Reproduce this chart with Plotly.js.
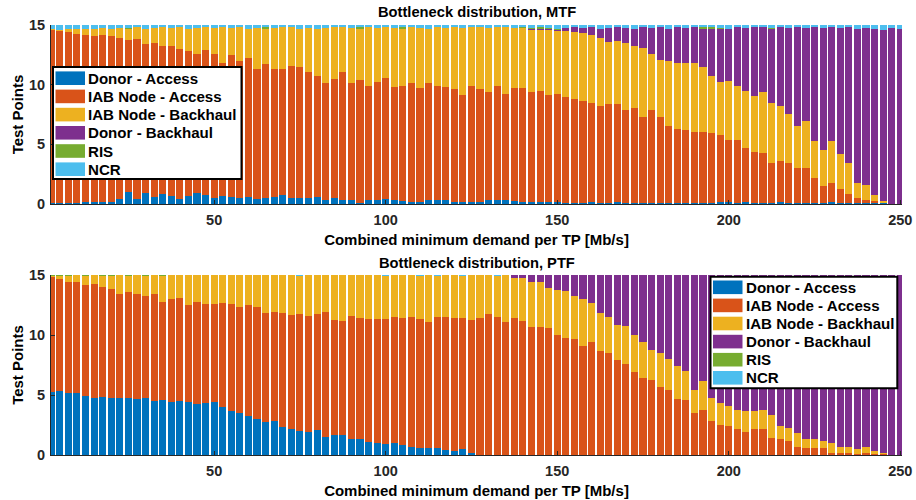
<!DOCTYPE html>
<html><head><meta charset="utf-8">
<script src="https://cdn.plot.ly/plotly-3.0.1.min.js"></script>
<style>html,body{margin:0;padding:0;background:#fff}#chart{width:916px;height:500px}</style>
</head><body><div id="chart"></div>
<script>
const demand = [2.5,5,7.5,10,12.5,15,17.5,20,22.5,25,27.5,30,32.5,35,37.5,40,42.5,45,47.5,50,52.5,55,57.5,60,62.5,65,67.5,70,72.5,75,77.5,80,82.5,85,87.5,90,92.5,95,97.5,100,102.5,105,107.5,110,112.5,115,117.5,120,122.5,125,127.5,130,132.5,135,137.5,140,142.5,145,147.5,150,152.5,155,157.5,160,162.5,165,167.5,170,172.5,175,177.5,180,182.5,185,187.5,190,192.5,195,197.5,200,202.5,205,207.5,210,212.5,215,217.5,220,222.5,225,227.5,230,232.5,235,237.5,240,242.5,245,247.5,250];

const seriesNames = ["Donor - Access","IAB Node - Access","IAB Node - Backhaul","Donor - Backhaul","RIS","NCR"];
const seriesColors = ["#0072BD","#D95319","#EDB120","#7E2F8E","#77AC30","#4DBEEE"];
const xTicks = [50,100,150,200,250];
const yTicks = [0,5,10,15];

// MTF panel
const mtfDonorAccess = [0.05,0.05,0.05,0.05,0.15,0.15,0.2,0.2,0.4,1.0, 0.4,0.9,0.6,0.8,0.7,0.4,0.7,0.9,0.75,0.5, 0.7,0.6,0.5,0.6,0.45,0.5,0.55,0.75,0.5,0.5, 0.5,0.6,0.3,0.5,0.35,0.3,0.1,0.3,0.3,0.4, 0.3,0.25,0.2,0.2,0.3,0.3,0.35,0.2,0.2,0.2, 0.2,0.3,0.3,0.3,0.25,0.2,0.2,0.15,0.15,0.15, 0.1,0.1,0.1,0.15,0.1,0.1,0.15,0.05,0.1,0.05, 0.1,0.05,0.1,0.05,0.05,0.05,0.05,0.1,0.15,0.15, 0.05,0.15,0.05,0.05,0.05,0.15,0.05,0.05,0.05,0.05, 0.05,0.15,0.05,0.05,0.05,0.05,0.05,0.05,0,0];
const mtfIabAccess = [14.5,14.45,14.4,14.2,14.0,13.95,13.95,13.9,13.55,12.75, 13.4,12.5,12.9,12.4,12.5,12.55,12.1,11.7,12.15,12.1, 11.15,11.9,11.5,11.6,10.85,11.2,10.8,10.6,11.1,10.95, 10.6,10.15,9.85,9.95,10.75,9.8,10.25,9.55,9.95,10.2, 9.5,9.6,9.9,9.5,9.8,9.6,9.45,9.45,8.95,9.65, 9.45,9.05,9.6,8.95,9.45,9.5,9.15,9.35,8.95,9.05, 8.85,8.7,8.5,8.35,8.1,8.25,8.25,7.85,7.95,7.25, 7.75,7.2,6.45,6.25,6.15,5.95,5.95,5.82,5.63,5.21, 5.31,4.51,4.34,4.25,3.39,3.48,3.41,2.94,2.99,2.1, 1.49,1.64,1.18,0.79,0.42,0.29,0.2,0.06,0,0];
const mtfIabBackhaul = [0.1,0.1,0.25,0.45,0.5,0.6,0.6,0.6,0.8,0.9, 1.0,1.3,1.25,1.6,1.55,1.85,1.9,2.15,1.9,2.15, 2.95,2.25,2.8,2.5,3.45,3.0,3.4,3.45,3.2,3.25, 3.65,3.9,4.6,4.35,3.7,4.65,4.35,4.95,4.5,4.2, 4.95,4.85,4.7,5.05,4.6,4.9,4.95,5.15,5.6,4.95, 5.15,5.4,4.9,5.55,5.05,5.05,5.2,5.05,5.45,5.3, 5.55,5.6,5.75,5.7,5.7,5.25,5.25,5.6,5.2,5.8, 4.7,4.8,5.4,5.5,5.64,5.84,5.5,4.83,4.42,4.98, 4.56,4.81,4.66,5.11,5.0,4.61,4.08,3.57,3.94,3.16, 2.99,3.52,2.96,2.57,1.26,1.25,0.5,0.14,0,0];
const mtfDonorBackhaul = [0,0,0,0,0,0,0,0,0,0, 0,0,0,0,0,0,0,0,0,0, 0,0,0,0,0,0,0,0,0,0, 0,0,0,0,0,0,0,0,0,0, 0,0,0,0,0,0,0,0,0,0, 0,0,0,0,0,0,0.15,0.15,0.1,0.1, 0.25,0.4,0.4,0.6,0.8,1.15,1.15,1.25,1.45,1.7, 2.2,2.75,2.75,3.0,2.91,2.96,3.2,3.95,4.5,4.36, 4.88,5.28,5.75,5.39,6.26,6.56,7.21,8.24,7.77,9.49, 10.22,9.49,10.56,11.39,12.97,13.16,13.9,14.35,14.75,14.7];
const mtfRis = [0,0,0,0,0,0,0,0,0,0.1, 0,0,0,0,0,0,0,0,0,0, 0,0,0,0,0,0.1,0,0,0,0, 0,0.05,0,0,0,0,0.1,0,0,0, 0,0.1,0,0,0,0,0,0,0,0, 0,0,0,0,0,0.05,0.05,0.1,0.1,0.1, 0,0,0,0,0,0,0,0,0,0, 0,0,0,0,0,0,0.1,0.1,0.05,0, 0,0,0,0,0.05,0,0,0,0,0, 0,0,0,0,0,0,0,0,0,0];
const mtfNcr = [0.35,0.4,0.3,0.3,0.35,0.3,0.25,0.3,0.25,0.25, 0.2,0.3,0.25,0.2,0.25,0.2,0.3,0.25,0.2,0.25, 0.2,0.25,0.2,0.3,0.25,0.2,0.25,0.2,0.2,0.3, 0.25,0.3,0.25,0.2,0.2,0.25,0.2,0.2,0.25,0.2, 0.25,0.2,0.2,0.25,0.3,0.2,0.25,0.2,0.25,0.2, 0.2,0.25,0.2,0.2,0.25,0.2,0.25,0.2,0.25,0.3, 0.25,0.2,0.25,0.2,0.3,0.25,0.2,0.25,0.3,0.2, 0.25,0.2,0.3,0.2,0.25,0.2,0.2,0.2,0.25,0.3, 0.2,0.25,0.2,0.2,0.25,0.2,0.25,0.2,0.25,0.2, 0.25,0.2,0.25,0.2,0.3,0.25,0.35,0.4,0.25,0.3];

// PTF panel
const ptfDonorAccess = [5.28,5.36,5.19,5.19,4.94,4.72,4.86,4.72,4.72,4.72, 4.64,4.72,4.53,4.58,4.44,4.53,4.39,4.25,4.31,4.39, 3.97,3.69,3.53,3.25,3.0,2.78,2.86,2.36,2.17,2.03, 1.94,2.11,1.53,1.64,1.64,1.36,1.36,1.08,1.0,0.92, 1.0,0.83,0.64,0.61,0.61,0.56,0.44,0.36,0.53,0.19, 0,0,0,0,0,0,0,0,0,0, 0,0,0,0,0,0,0,0,0,0, 0,0,0,0,0,0,0,0,0,0, 0,0,0,0,0,0,0,0,0,0, 0,0,0,0,0,0,0,0,0,0];
const ptfIabAccess = [9.58,9.31,9.25,9.25,9.23,9.53,9.17,9.11,8.7,8.89, 8.75,8.53,8.89,8.2,8.53,8.58,8.11,8.53,8.27,8.19, 8.67,8.89,8.83,9.25,9.36,9.02,9.03,9.5,9.5,9.72, 9.64,9.61,10.39,9.61,9.53,10.22,10.03,10.23,10.36,10.44, 10.5,10.61,10.86,10.75,10.5,10.97,11.06,11.08,10.86,11.06, 11.39,11.72,11.53,11.11,11.39,11.19,10.69,10.69,10.56,10.0, 9.72,9.69,9.11,9.44,8.69,8.53,7.94,7.58,6.94,6.44, 6.28,5.67,5.42,4.69,4.58,3.53,3.75,2.86,2.5,2.42, 2.17,1.94,2.14,2.14,1.39,1.31,1.19,0.69,0.56,0.56, 0.56,0.19,0.19,0.14,0.08,0.19,0.08,0.08,0,0];
const ptfIabBackhaul = [0.09,0.28,0.51,0.56,0.78,0.75,0.92,1.12,1.58,1.34, 1.61,1.7,1.58,2.17,2.03,1.89,2.5,2.22,2.42,2.42, 2.36,2.42,2.64,2.5,2.64,3.2,3.11,3.14,3.33,3.2, 3.42,3.28,3.08,3.75,3.83,3.42,3.61,3.69,3.64,3.59, 3.5,3.56,3.5,3.59,3.89,3.42,3.5,3.56,3.51,3.75, 3.61,3.28,3.42,3.89,3.39,3.59,3.75,3.75,3.33,3.75, 3.97,3.56,3.89,3.25,3.17,2.94,2.89,3.17,3.06,3.0, 2.5,2.86,2.55,2.75,2.42,1.89,2.44,1.86,1.86,1.66, 1.58,1.73,1.55,1.61,1.94,1.13,1.09,1.17,0.77,0.77, 0.63,0.78,0.5,0.55,0.39,0.45,0.28,0.06,0,0];
const ptfDonorBackhaul = [0,0,0,0,0,0,0,0,0,0, 0,0,0,0,0,0,0,0,0,0, 0,0,0,0,0,0,0,0,0,0, 0,0,0,0,0,0,0,0,0,0, 0,0,0,0,0,0,0,0,0,0, 0,0,0,0,0.22,0.22,0.56,0.56,1.11,1.25, 1.31,1.75,2.0,2.31,3.14,3.53,4.17,4.25,5.0,5.56, 6.22,6.47,7.03,7.56,8.0,9.58,8.81,10.28,10.64,10.92, 11.25,11.33,11.31,11.25,11.67,12.56,12.72,13.14,13.67,13.67, 13.81,14.03,14.31,14.31,14.53,14.36,14.64,14.86,15,15];
const ptfRis = [0.05,0.05,0.05,0,0.05,0,0.05,0.05,0,0.05, 0,0.05,0,0.05,0,0,0,0,0,0, 0,0,0,0,0,0,0,0,0,0, 0,0,0,0,0,0,0,0,0,0, 0,0,0,0,0,0,0,0,0,0, 0,0,0,0,0,0,0,0,0,0, 0,0,0,0,0,0,0,0,0,0, 0,0,0,0,0,0,0,0,0,0, 0,0,0,0,0,0,0,0,0,0, 0,0,0,0,0,0,0,0,0,0];
const ptfNcr = [0,0,0,0,0,0,0,0,0,0, 0,0,0,0,0,0,0,0,0,0, 0,0,0,0,0,0,0,0,0,0.05, 0,0,0,0,0,0,0,0,0,0.05, 0,0,0,0.05,0,0.05,0,0,0.1,0, 0,0,0.05,0,0,0,0,0,0,0, 0,0,0,0,0,0,0,0,0,0, 0,0,0,0,0,0,0,0,0,0, 0,0,0,0,0,0,0,0,0,0, 0,0,0,0,0,0,0,0,0,0];

const mtfSeries = [mtfDonorAccess, mtfIabAccess, mtfIabBackhaul, mtfDonorBackhaul, mtfRis, mtfNcr];
const ptfSeries = [ptfDonorAccess, ptfIabAccess, ptfIabBackhaul, ptfDonorBackhaul, ptfRis, ptfNcr];

const FONT = "Liberation Sans, Arial, Helvetica, sans-serif";
const traces = [];
mtfSeries.forEach((vals, k) => traces.push({
  type: "bar", x: demand, y: vals, name: seriesNames[k], xaxis: "x", yaxis: "y",
  marker: {color: seriesColors[k], line: {width: 0}}, showlegend: false, hoverinfo: "skip"
}));
ptfSeries.forEach((vals, k) => traces.push({
  type: "bar", x: demand, y: vals, name: seriesNames[k], xaxis: "x2", yaxis: "y2",
  marker: {color: seriesColors[k], line: {width: 0}}, showlegend: false, hoverinfo: "skip"
}));

// page geometry (pixels)
const W = 916, H = 500, ML = 51, MR = 14, MT = 25, MB = 45;
const PW = W - ML - MR, PH = H - MT - MB;
const px2x = p => (p - ML) / PW;
const px2y = p => (H - MB - p) / PH;

const tickFont = {family: FONT, size: 14.5, color: "#262626", weight: "bold"};
const titleFont = {family: FONT, size: 15, color: "#000", weight: "bold"};
function xAx(anchor) {
  return {
    anchor: anchor, domain: [0, 1], range: [2.45, 250.5], tickvals: xTicks,
    ticks: "inside", ticklen: 4, tickcolor: "#262626", showline: true, linecolor: "#262626", linewidth: 1,
    showgrid: false, zeroline: false, tickfont: tickFont, ticklabelstandoff: 3,
    title: {text: "Combined minimum demand per TP [Mb/s]", font: titleFont, standoff: 7}
  };
}
function yAx(anchor, domain) {
  return {
    anchor: anchor, domain: domain, range: [0, 15], tickvals: yTicks,
    ticks: "inside", ticklen: 4, tickcolor: "#262626", showline: true, linecolor: "#262626", linewidth: 1,
    showgrid: false, zeroline: false, tickfont: tickFont, ticklabelstandoff: 2,
    title: {text: "Test Points", font: titleFont, standoff: 1}
  };
}

// legend boxes drawn as shapes + annotations from the series names / colours
const shapes = [], annotations = [];
function buildLegend(left, top, right, bottom, firstRow, step) {
  shapes.push({type: "rect", xref: "paper", yref: "paper", x0: px2x(left), x1: px2x(right), y0: px2y(bottom), y1: px2y(top),
    fillcolor: "#fff", line: {color: "#000", width: 2}, layer: "above"});
  seriesNames.forEach((nm, k) => {
    const cy = firstRow + k * step;
    shapes.push({type: "rect", xref: "paper", yref: "paper", x0: px2x(left + 2.5), x1: px2x(left + 32), y0: px2y(cy + 6.8), y1: px2y(cy - 6.8),
      fillcolor: seriesColors[k], line: {width: 0}, layer: "above"});
    annotations.push({text: nm, xref: "paper", yref: "paper", x: px2x(left + 33), y: px2y(cy), xanchor: "left", yanchor: "middle",
      showarrow: false, font: {family: FONT, size: 15.1, color: "#000", weight: "bold"}});
  });
}
buildLegend(53, 67, 241.5, 179, 78.2, 18.2);
buildLegend(710.5, 276.7, 897.3, 388.3, 287.3, 18.1);

annotations.push({text: "Bottleneck distribution, MTF", xref: "paper", yref: "paper", x: 0.5, y: px2y(12), xanchor: "center", yanchor: "middle", showarrow: false, font: {family: FONT, size: 14.7, color: "#000", weight: "bold"}});
annotations.push({text: "Bottleneck distribution, PTF", xref: "paper", yref: "paper", x: 0.5, y: px2y(263), xanchor: "center", yanchor: "middle", showarrow: false, font: {family: FONT, size: 14.7, color: "#000", weight: "bold"}});

const layout = {
  width: W, height: H, margin: {l: ML, r: MR, t: MT, b: MB},
  paper_bgcolor: "#fff", plot_bgcolor: "#fff", barmode: "stack", bargap: 0.17, showlegend: false,
  xaxis: xAx("y"), yaxis: yAx("x", [px2y(204), 1]),
  xaxis2: xAx("y2"), yaxis2: yAx("x2", [0, px2y(275)]),
  shapes: shapes, annotations: annotations
};
Plotly.newPlot("chart", traces, layout, {staticPlot: true, displayModeBar: false});
</script></body></html>
